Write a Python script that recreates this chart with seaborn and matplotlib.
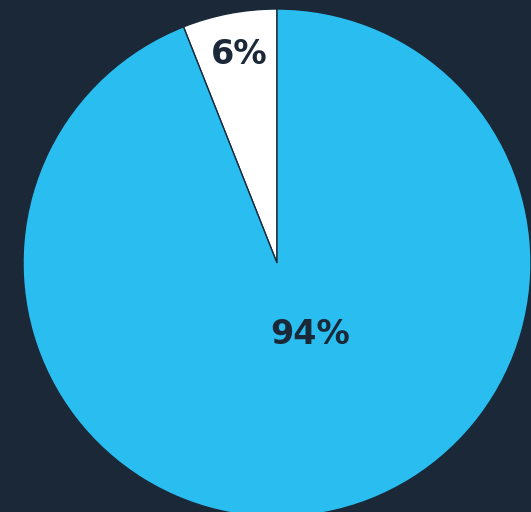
import matplotlib
matplotlib.use("Agg")
import matplotlib.pyplot as plt
import seaborn as sns

categories = ["No", "Yes"]
values = [6, 94]
labels = ["6%", "94%"]

BG = "#1a2838"
colors = ["#ffffff", "#29bdf0"]

sns.set_theme(style="white")
plt.rcParams['font.family'] = ['DejaVu Sans']

fig = plt.figure(figsize=(5.31, 5.12), dpi=100, facecolor=BG)
ax = fig.add_axes([(277 - 254) / 531, (512 - 263 - 254) / 512, 508 / 531, 508 / 512])
ax.set_facecolor(BG)
ax.pie(values, colors=colors, startangle=90, counterclock=True,
       wedgeprops=dict(edgecolor=BG, linewidth=1.0), radius=1.0)
ax.set_xlim(-1, 1)
ax.set_ylim(-1, 1)
ax.set_aspect('auto')
ax.axis('off')

ax.text(33 / 254, -72 / 254, labels[1], ha='center', va='center',
        fontsize=24, fontweight='bold', color=BG)
ax.text(-38 / 254, 208 / 254, labels[0], ha='center', va='center',
        fontsize=24, fontweight='bold', color=BG)

fig.savefig("out.png", dpi=100, facecolor=BG)
